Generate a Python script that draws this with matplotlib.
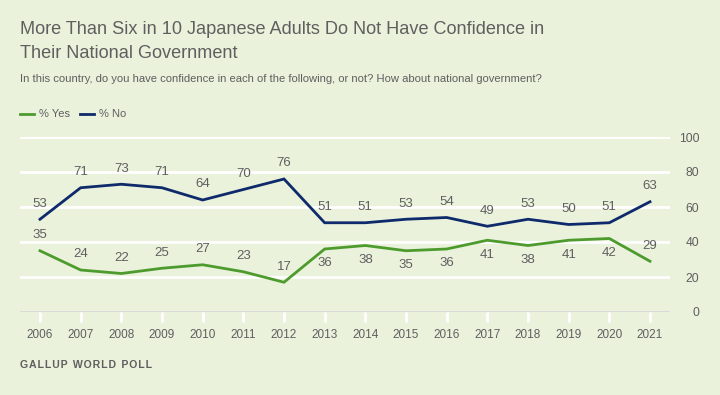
import matplotlib
matplotlib.use("Agg")
import matplotlib.pyplot as plt

years = [2006, 2007, 2008, 2009, 2010, 2011, 2012, 2013, 2014, 2015, 2016, 2017, 2018, 2019, 2020, 2021]
yes_vals = [35, 24, 22, 25, 27, 23, 17, 36, 38, 35, 36, 41, 38, 41, 42, 29]
no_vals = [53, 71, 73, 71, 64, 70, 76, 51, 51, 53, 54, 49, 53, 50, 51, 63]
yticks = [0, 20, 40, 60, 80, 100]
# label placement for Yes series: True = above line
yes_above = [True, True, True, True, True, True, True, False, False, False, False, False, False, False, False, True]

BG = "#EAF2DC"
GREEN = "#4E9B2D"
NAVY = "#0E2A6B"
GRAY = "#5F5F5F"
FONT = "Liberation Sans"
plt.rcParams['font.family'] = [FONT, 'DejaVu Sans']

fig = plt.figure(figsize=(7.2, 3.95), dpi=100, facecolor=BG)
W, H = 720, 395
ax = fig.add_axes([20 / W, (H - 312) / H, 650 / W, 175 / H])
ax.set_facecolor(BG)
ax.set_xlim(2006 - 20 / 40.67, 2021 + 20 / 40.67)
ax.set_ylim(0, 100)

for y in yticks[1:]:
    ax.axhline(y, color="white", lw=2, zorder=1)
ax.axhline(0, color="#D9D9D9", lw=2, zorder=1)

for s in ax.spines.values():
    s.set_visible(False)

ax.plot(years, no_vals, color=NAVY, lw=2, zorder=3, solid_joinstyle="miter")
ax.plot(years, yes_vals, color=GREEN, lw=2, zorder=3, solid_joinstyle="miter")

for x, v in zip(years, no_vals):
    ax.annotate(str(v), (x, v), xytext=(0, 7), textcoords="offset points",
                ha="center", va="bottom", fontsize=9.5, color=GRAY)
for x, v, up in zip(years, yes_vals, yes_above):
    ax.annotate(str(v), (x, v), xytext=(0, 7 if up else -6), textcoords="offset points",
                ha="center", va="bottom" if up else "top", fontsize=9.5, color=GRAY)

ax.set_xticks(years)
ax.set_xticklabels([str(y) for y in years], fontsize=8.5, color=GRAY)
ax.tick_params(axis="x", length=7, width=2, color="white", pad=5)
ax.yaxis.tick_right()
ax.set_yticks(yticks)
ax.set_yticklabels([str(y) for y in yticks], fontsize=8.7, color=GRAY, ha="right")
ax.tick_params(axis="y", length=0, pad=21)

fig.text(20 / W, 1 - 34 / H, "More Than Six in 10 Japanese Adults Do Not Have Confidence in",
         fontsize=13.1, color=GRAY, va="baseline")
fig.text(20 / W, 1 - 58 / H, "Their National Government",
         fontsize=13.1, color=GRAY, va="baseline")
fig.text(20 / W, 1 - 82.5 / H,
         "In this country, do you have confidence in each of the following, or not? How about national government?",
         fontsize=8.1, color=GRAY, va="baseline")

# legend
ly = 1 - 114 / H
fig.add_artist(plt.Line2D([20 / W, 34 / W], [ly, ly], color=GREEN, lw=2))
fig.text(39 / W, ly, "% Yes", fontsize=8, color=GRAY, va="center")
fig.add_artist(plt.Line2D([80 / W, 94 / W], [ly, ly], color=NAVY, lw=2))
fig.text(99 / W, ly, "% No", fontsize=8, color=GRAY, va="center")

fig.text(20 / W, 1 - 365 / H, "G A L L U P   W O R L D   P O L L".replace("   ", "\u2002").replace(" ", "\u200a"),
         fontsize=7.6, color=GRAY, va="center", fontweight="bold")

fig.savefig("out.png", dpi=100, facecolor=BG)
